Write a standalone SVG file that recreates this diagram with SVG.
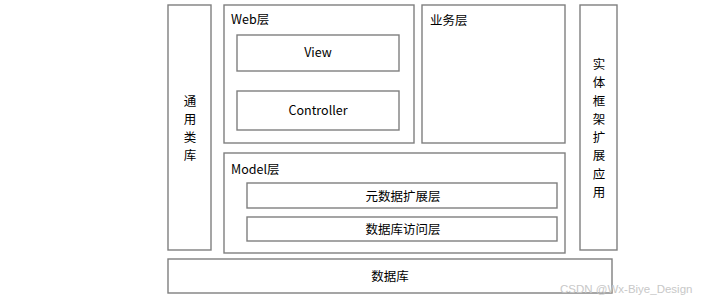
<svg xmlns="http://www.w3.org/2000/svg" width="711" height="302" viewBox="0 0 711 302">
<style>
.b{fill:#fff;stroke:#7f7f7f;stroke-width:1.4}
text{font-family:"Noto Sans CJK SC","Liberation Sans",sans-serif;font-size:12.5px;fill:#000}
.c{text-anchor:middle}
.wm{font-family:"Liberation Sans",sans-serif;font-size:11.5px;fill:#c8c8c8}
</style>
<rect width="711" height="302" fill="#fff"/>
<g id="common">
<rect class="b" x="168" y="5" width="43" height="245"/>
<text class="c" x="190" y="106">通</text>
<text class="c" x="190" y="124">用</text>
<text class="c" x="190" y="142">类</text>
<text class="c" x="190" y="160">库</text>
</g>
<g id="web">
<rect class="b" x="224" y="5" width="190" height="138"/>
<text x="231" y="24">Web层</text>
</g>
<g id="view">
<rect class="b" x="237" y="35" width="162" height="36"/>
<text class="c" x="318" y="57">View</text>
</g>
<g id="controller">
<rect class="b" x="237" y="91" width="162" height="39"/>
<text class="c" x="318" y="115">Controller</text>
</g>
<g id="business">
<rect class="b" x="422" y="5" width="143" height="138"/>
<text x="430" y="25">业务层</text>
</g>
<g id="entity">
<rect class="b" x="580" y="5" width="37" height="245"/>
<text class="c" x="599" y="69">实</text>
<text class="c" x="599" y="87">体</text>
<text class="c" x="599" y="106">框</text>
<text class="c" x="599" y="124">架</text>
<text class="c" x="599" y="142">扩</text>
<text class="c" x="599" y="160">展</text>
<text class="c" x="599" y="179">应</text>
<text class="c" x="599" y="197">用</text>
</g>
<g id="model">
<rect class="b" x="224" y="153" width="341" height="100"/>
<text x="231" y="174">Model层</text>
</g>
<g id="metadata">
<rect class="b" x="247" y="183" width="310" height="25"/>
<text class="c" x="403" y="201">元数据扩展层</text>
</g>
<g id="dbaccess">
<rect class="b" x="247" y="217" width="310" height="24"/>
<text class="c" x="403" y="234">数据库访问层</text>
</g>
<g id="database">
<rect class="b" x="168" y="259" width="444" height="34"/>
<text class="c" x="390" y="281">数据库</text>
</g>
<g id="connectors"></g>
<text class="wm" x="560" y="293">CSDN @Wx-Biye_Design</text>
</svg>
